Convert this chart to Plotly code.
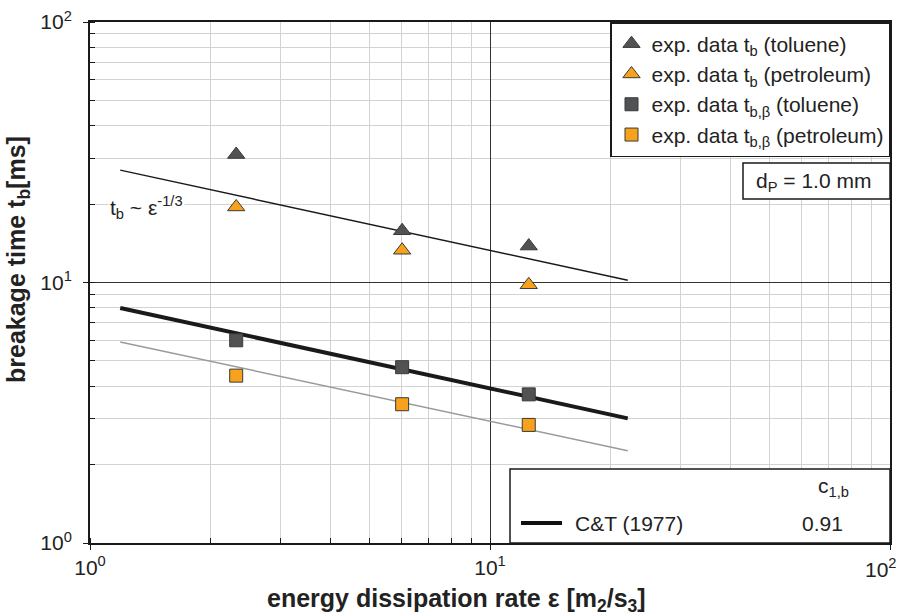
import plotly.graph_objects as go

# ---- data ----
eps = [2.32, 6.03, 12.5]
tb_toluene = [31.0, 15.8, 13.8]
tb_petroleum = [19.5, 13.3, 9.8]
tbb_toluene = [6.0, 4.73, 3.72]
tbb_petroleum = [4.39, 3.41, 2.84]

line_eps = [1.19, 22.1]
fit_tb = [27.0, 10.2]
fit_ct = [7.98, 3.01]
fit_pet = [5.91, 2.26]

x_ticks = [1, 10, 100]
x_ticktext = ["10<sup>0</sup>", "10<sup>1</sup>", ""]
x_last_label = "10<sup>2</sup>"
y_ticks = [1, 10, 100]
y_ticktext = ["10<sup>0</sup>", "10<sup>1</sup>", "10<sup>2</sup>"]

DARK = "#505254"
ORANGE = "#F7A11C"
EDGE = "#3a3a3a"
FONT = "Liberation Sans, Arial, sans-serif"
TXT = "#222222"

# plot-area geometry in pixels (used only for placing text boxes)
L, R, T, B = 90, 890, 22, 543
def px(xp):
    return (xp - L) / (R - L)
def py(yp):
    return (B - yp) / (B - T)

fig = go.Figure()

fig.add_trace(go.Scatter(x=line_eps, y=fit_tb, mode="lines",
                         line=dict(color="#1a1a1a", width=1.5), showlegend=False, hoverinfo="skip"))
fig.add_trace(go.Scatter(x=line_eps, y=fit_ct, mode="lines",
                         line=dict(color="#1a1a1a", width=4), showlegend=False, hoverinfo="skip"))
fig.add_trace(go.Scatter(x=line_eps, y=fit_pet, mode="lines",
                         line=dict(color="#9a9a9a", width=1.5), showlegend=False, hoverinfo="skip"))

fig.add_trace(go.Scatter(x=eps, y=tb_toluene, mode="markers", name="exp. data t<sub>b</sub> (toluene)",
                         marker=dict(symbol="triangle-up", size=15, color=DARK, line=dict(color=EDGE, width=1))))
fig.add_trace(go.Scatter(x=eps, y=tb_petroleum, mode="markers", name="exp. data t<sub>b</sub> (petroleum)",
                         marker=dict(symbol="triangle-up", size=15, color=ORANGE, line=dict(color=EDGE, width=1))))
fig.add_trace(go.Scatter(x=eps, y=tbb_toluene, mode="markers", name="exp. data t<sub>b,β</sub> (toluene)",
                         marker=dict(symbol="square", size=13, color=DARK, line=dict(color=EDGE, width=1))))
fig.add_trace(go.Scatter(x=eps, y=tbb_petroleum, mode="markers", name="exp. data t<sub>b,β</sub> (petroleum)",
                         marker=dict(symbol="square", size=13, color=ORANGE, line=dict(color=EDGE, width=1))))

axis_common = dict(
    type="log", automargin=False, ticklabeloverflow="allow",
    showline=True, linecolor="#1a1a1a", linewidth=2, mirror=True,
    showgrid=True, gridcolor="#333333", gridwidth=1,
    ticks="outside", ticklen=5, tickcolor="#1a1a1a",
    minor=dict(dtick="D1", showgrid=True, gridcolor="#d3d3d3", gridwidth=1,
               ticks="inside", ticklen=5, tickcolor="#1a1a1a"),
    zeroline=False,
    tickfont=dict(family=FONT, size=21, color=TXT),
)

fig.update_layout(
    width=901, height=616,
    margin=dict(l=L, r=901 - R, t=T, b=616 - B),
    paper_bgcolor="white", plot_bgcolor="white",
    xaxis=dict(axis_common, range=[0, 2], tickvals=x_ticks, ticktext=x_ticktext),
    yaxis=dict(axis_common, range=[0, 2], tickvals=y_ticks, ticktext=y_ticktext, ticklabelstandoff=7),
    legend=dict(x=1, y=1, xanchor="right", yanchor="top",
                bgcolor="white", bordercolor="#1a1a1a", borderwidth=1.5,
                font=dict(family=FONT, size=21, color=TXT),
                itemsizing="trace", tracegroupgap=0),
    showlegend=True,
)

# last x tick label, nudged inside the page
fig.add_annotation(xref="paper", yref="paper", x=px(899), y=py(568), xanchor="right", yanchor="middle",
                   text=x_last_label, showarrow=False, font=dict(family=FONT, size=21, color=TXT))

# axis titles
fig.add_annotation(xref="paper", yref="paper", x=px(456), y=py(600), xanchor="center", yanchor="middle",
                   text="energy dissipation rate ε [m<sub>2</sub>/s<sub>3</sub>]", showarrow=False,
                   font=dict(family=FONT, size=25, color=TXT, weight="bold"))
fig.add_annotation(xref="paper", yref="paper", x=px(18), y=py(260), xanchor="center", yanchor="middle",
                   textangle=-90, text="breakage time t<sub>b</sub>[ms]", showarrow=False,
                   font=dict(family=FONT, size=25, color=TXT, weight="bold"))

# d_P box
fig.add_shape(type="rect", xref="paper", yref="paper", x0=px(743), x1=1, y0=py(199), y1=py(163),
              fillcolor="white", line=dict(color="#1a1a1a", width=1.5), layer="above")
fig.add_annotation(xref="paper", yref="paper", x=px(813), y=py(182), xanchor="center", yanchor="middle",
                   text="d<sub>P</sub> = 1.0 mm", showarrow=False,
                   font=dict(family=FONT, size=21, color=TXT))

# bottom table box
fig.add_shape(type="rect", xref="paper", yref="paper", x0=px(510), x1=1, y0=0, y1=py(469),
              fillcolor="white", line=dict(color="#1a1a1a", width=1.5), layer="above")
fig.add_shape(type="line", xref="paper", yref="paper", x0=px(521), x1=px(562),
              y0=py(523), y1=py(523), line=dict(color="#111", width=4), layer="above")
fig.add_annotation(xref="paper", yref="paper", x=px(573), y=py(523), xanchor="left", yanchor="middle",
                   text="C&amp;T (1977)", showarrow=False, font=dict(family=FONT, size=21, color=TXT))
fig.add_annotation(xref="paper", yref="paper", x=px(822), y=py(523), xanchor="center", yanchor="middle",
                   text="0.91", showarrow=False, font=dict(family=FONT, size=21, color=TXT))
fig.add_annotation(xref="paper", yref="paper", x=px(833), y=py(487), xanchor="center", yanchor="middle",
                   text="c<sub>1,b</sub>", showarrow=False, font=dict(family=FONT, size=21, color=TXT))

# slope annotation
fig.add_annotation(xref="paper", yref="paper", x=px(146), y=py(207), xanchor="center", yanchor="middle",
                   text="t<sub>b</sub> ~ ε<sup>-1/3</sup>", showarrow=False, bgcolor="white",
                   font=dict(family=FONT, size=21, color=TXT))

fig.write_html("out.html", config={"displayModeBar": False},
               post_script="document.body.style.margin='0px';document.body.style.padding='0px';")
